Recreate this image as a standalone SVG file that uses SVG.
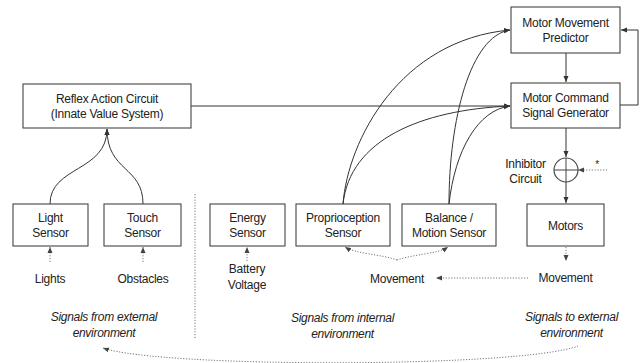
<svg xmlns="http://www.w3.org/2000/svg" width="643" height="363" viewBox="0 0 643 363">
  <defs>
    <marker id="arrow" markerUnits="userSpaceOnUse" markerWidth="7" markerHeight="6" refX="6" refY="3" orient="auto">
      <path d="M0,0.5 L6,3 L0,5.5 z" fill="#333"/>
    </marker>
    <marker id="arrowDot" markerUnits="userSpaceOnUse" markerWidth="7" markerHeight="6" refX="6" refY="3" orient="auto">
      <path d="M0,0.5 L6,3 L0,5.5 z" fill="#444"/>
    </marker>
  </defs>
  <style>
    .box { fill: #fff; stroke: #444; stroke-width: 1.1; }
    .lbl { font-family: "Liberation Sans", Arial, sans-serif; font-size: 12px; letter-spacing: -0.25px; fill: #222; text-anchor: middle; }
    .note { font-family: "Liberation Sans", Arial, sans-serif; font-size: 12px; letter-spacing: -0.3px; font-style: italic; fill: #222; text-anchor: middle; }
    .wire { fill: none; stroke: #333; stroke-width: 1; }
    .dot { fill: none; stroke: #777; stroke-width: 1; stroke-dasharray: 1.2 1.6; }
  </style>
  <rect width="643" height="363" fill="#fff"/>

  <!-- connectors -->
  <g id="connectors">
    <!-- reflex circuit to command generator -->
    <path class="wire" d="M191,106 H510" marker-end="url(#arrow)"/>
    <!-- predictor to command generator -->
    <path class="wire" d="M566,53 V82" marker-end="url(#arrow)"/>
    <!-- command generator back to predictor -->
    <path class="wire" d="M620,105 H638 V30 H621" marker-end="url(#arrow)"/>
    <!-- command generator to inhibitor -->
    <path class="wire" d="M566,128 V157" marker-end="url(#arrow)"/>
    <!-- inhibitor to motors -->
    <path class="wire" d="M566,182 V203" marker-end="url(#arrow)"/>
    <!-- external sensors into reflex circuit -->
    <path class="wire" d="M50,204 C50,166 107,172 107,129" marker-end="url(#arrow)"/>
    <path class="wire" d="M143,204 C143,166 107,172 107,129" marker-end="url(#arrow)"/>
    <!-- internal sensors to predictor and command generator -->
    <path class="wire" d="M343,204 C348,140 400,40 510,30" marker-end="url(#arrow)"/>
    <path class="wire" d="M343,204 C350,140 420,110 510,106" marker-end="url(#arrow)"/>
    <path class="wire" d="M449,204 C449,120 470,36 510,30" marker-end="url(#arrow)"/>
    <path class="wire" d="M449,204 C455,150 478,110 510,106" marker-end="url(#arrow)"/>

    <!-- dotted signal paths -->
    <path class="dot" d="M50,262 V247" marker-end="url(#arrowDot)"/>
    <path class="dot" d="M143,262 V247" marker-end="url(#arrowDot)"/>
    <path class="dot" d="M247,261 V247" marker-end="url(#arrowDot)"/>
    <path class="dot" d="M397,260 C380,254 356,254 345,247" marker-end="url(#arrowDot)"/>
    <path class="dot" d="M397,260 C414,254 438,254 448,247" marker-end="url(#arrowDot)"/>
    <path class="dot" d="M566,247 V261" marker-end="url(#arrowDot)"/>
    <path class="dot" d="M528,278 H436" marker-end="url(#arrowDot)"/>
    <path class="dot" d="M607,170 H578" marker-end="url(#arrowDot)"/>
    <path class="dot" d="M578,346 C520,368 160,368 103,348" marker-end="url(#arrowDot)"/>
    <!-- divider between external and internal signals -->
    <path class="dot" d="M195,194 V338"/>
  </g>

  <g id="reflex">
    <rect class="box" x="23" y="84" width="168" height="44"/>
    <text class="lbl" x="107" y="102.5">Reflex Action Circuit</text>
    <text class="lbl" x="107" y="117.5">(Innate Value System)</text>
  </g>

  <g id="predictor">
    <rect class="box" x="511" y="7" width="109" height="46"/>
    <text class="lbl" x="565.5" y="26.5">Motor Movement</text>
    <text class="lbl" x="565.5" y="41.5">Predictor</text>
  </g>

  <g id="command">
    <rect class="box" x="511" y="83" width="109" height="45"/>
    <text class="lbl" x="565.5" y="101.5">Motor Command</text>
    <text class="lbl" x="565.5" y="116.5">Signal Generator</text>
  </g>

  <g id="inhibitor">
    <circle cx="566" cy="170" r="12" fill="#fff" stroke="#444" stroke-width="1.1"/>
    <path d="M554,170 H578 M566,158 V182" stroke="#444" stroke-width="1"/>
    <text class="lbl" x="525.5" y="168">Inhibitor</text>
    <text class="lbl" x="525.5" y="183">Circuit</text>
    <text class="lbl" x="597" y="168" style="font-size:10px">*</text>
  </g>

  <g id="motors">
    <rect class="box" x="527" y="204" width="77" height="42"/>
    <text class="lbl" x="565.5" y="229.5">Motors</text>
  </g>

  <g id="light-sensor">
    <rect class="box" x="13" y="204" width="75" height="42"/>
    <text class="lbl" x="50.5" y="221.5">Light</text>
    <text class="lbl" x="50.5" y="236.5">Sensor</text>
  </g>

  <g id="touch-sensor">
    <rect class="box" x="104" y="204" width="77" height="42"/>
    <text class="lbl" x="142.5" y="221.5">Touch</text>
    <text class="lbl" x="142.5" y="236.5">Sensor</text>
  </g>

  <g id="energy-sensor">
    <rect class="box" x="210" y="204" width="75" height="42"/>
    <text class="lbl" x="247.5" y="221.5">Energy</text>
    <text class="lbl" x="247.5" y="236.5">Sensor</text>
  </g>

  <g id="proprioception-sensor">
    <rect class="box" x="296" y="204" width="94" height="42"/>
    <text class="lbl" x="343" y="221.5">Proprioception</text>
    <text class="lbl" x="343" y="236.5">Sensor</text>
  </g>

  <g id="balance-sensor">
    <rect class="box" x="402" y="204" width="94" height="42"/>
    <text class="lbl" x="449" y="221.5">Balance /</text>
    <text class="lbl" x="449" y="236.5">Motion Sensor</text>
  </g>

  <g id="inputs">
    <text class="lbl" x="50" y="282.5">Lights</text>
    <text class="lbl" x="143" y="282.5">Obstacles</text>
    <text class="lbl" x="247" y="273">Battery</text>
    <text class="lbl" x="247" y="289">Voltage</text>
    <text class="lbl" x="397" y="282.5">Movement</text>
    <text class="lbl" x="565.5" y="282">Movement</text>
  </g>

  <g id="captions">
    <text class="note" x="104" y="321">Signals from external</text>
    <text class="note" x="104" y="336.5">environment</text>
    <text class="note" x="342.5" y="322">Signals from internal</text>
    <text class="note" x="342.5" y="337.5">environment</text>
    <text class="note" x="571.5" y="321">Signals to external</text>
    <text class="note" x="571.5" y="336.5">environment</text>
  </g>
</svg>
